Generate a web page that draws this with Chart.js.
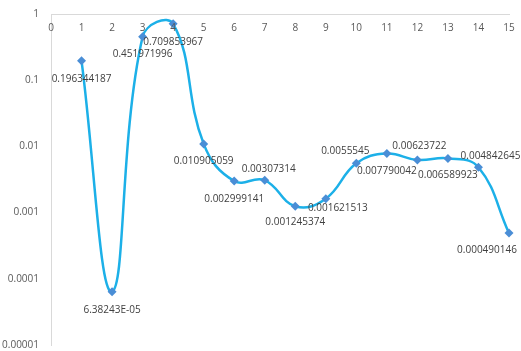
<!DOCTYPE html>
<html>
<head>
<meta charset="utf-8">
<script src="https://cdn.jsdelivr.net/npm/chart.js@4"></script>
<style>
  body { margin: 0; background: #fff; }
  #stage { display: block; }
</style>
</head>
<body>
<canvas id="stage" width="521" height="351"></canvas>
<script>
// データ
const xValues = [1, 2, 3, 4, 5, 6, 7, 8, 9, 10, 11, 12, 13, 14, 15];
const yValues = [0.196344187, 6.38243E-05, 0.451971996, 0.709853967, 0.010905059,
                 0.002999141, 0.00307314, 0.001245374, 0.001621513, 0.0055545,
                 0.007790042, 0.00623722, 0.006589923, 0.004842645, 0.000490146];
const pointLabels = ['0.196344187', '6.38243E-05', '0.451971996', '0.709853967', '0.010905059',
                     '0.002999141', '0.00307314', '0.001245374', '0.001621513', '0.0055545',
                     '0.007790042', '0.00623722', '0.006589923', '0.004842645', '0.000490146'];
const xTicks = [0, 1, 2, 3, 4, 5, 6, 7, 8, 9, 10, 11, 12, 13, 14, 15];
const yTicks = ['1', '0.1', '0.01', '0.001', '0.0001', '0.00001'];

// ラベル位置のずれ (点からの dx, dy)
const labelOffsets = [[0, 18], [0, 18], [0, 17], [0, 18], [0, 17], [0, 18], [4, -11], [0, 16],
                      [12, 9], [-11, -12], [0, 18], [2, -14], [0, 17], [12, -11], [-22, 17]];

const FONT = '"Open Sans", "Noto Sans", sans-serif';

// 軸の目盛ラベルとデータラベルを描く
const labelPlugin = {
    id: 'labels',
    afterDatasetsDraw(chart) {
        const ctx = chart.ctx;
        const xs = chart.scales.x, ys = chart.scales.y;
        ctx.save();
        ctx.font = '10px ' + FONT;
        ctx.textBaseline = 'middle';
        ctx.fillStyle = '#595959';
        ctx.textAlign = 'center';
        for (const t of xTicks) {
            ctx.fillText(String(t), xs.getPixelForValue(t), chart.chartArea.top + 14);
        }
        ctx.textAlign = 'right';
        for (const t of yTicks) {
            ctx.fillText(t, chart.chartArea.left - 12, ys.getPixelForValue(Number(t)));
        }
        ctx.textAlign = 'center';
        ctx.fillStyle = '#404040';
        chart.getDatasetMeta(0).data.forEach((pt, i) => {
            const off = labelOffsets[i];
            ctx.fillText(pointLabels[i], pt.x + off[0], pt.y + off[1]);
        });
        ctx.restore();
    }
};

new Chart(document.getElementById('stage'), {
    type: 'line',
    data: {
        datasets: [{
            data: xValues.map((x, i) => ({x: x, y: yValues[i]})),
            borderColor: '#1CB0E8',
            borderWidth: 2.5,
            tension: 0.42,
            pointStyle: 'rectRot',
            pointRadius: 4.5,
            pointBackgroundColor: '#4A8ED6',
            pointBorderColor: '#4A8ED6',
            pointBorderWidth: 0,
            clip: false
        }]
    },
    options: {
        responsive: false,
        animation: false,
        layout: { padding: { top: 14, right: 12, left: 51, bottom: 6 } },
        plugins: {
            legend: { display: false },
            tooltip: { enabled: false }
        },
        scales: {
            x: {
                type: 'linear',
                position: 'top',
                min: 0,
                max: 15,
                grid: { display: false, drawTicks: false },
                border: { display: true, color: '#D9D9D9', width: 1 },
                ticks: { display: false }
            },
            y: {
                type: 'logarithmic',
                min: 0.00001,
                max: 1,
                grid: { display: false, drawTicks: false },
                border: { display: true, color: '#D9D9D9', width: 1 },
                ticks: { display: false }
            }
        }
    },
    plugins: [labelPlugin]
});
</script>
</body>
</html>
